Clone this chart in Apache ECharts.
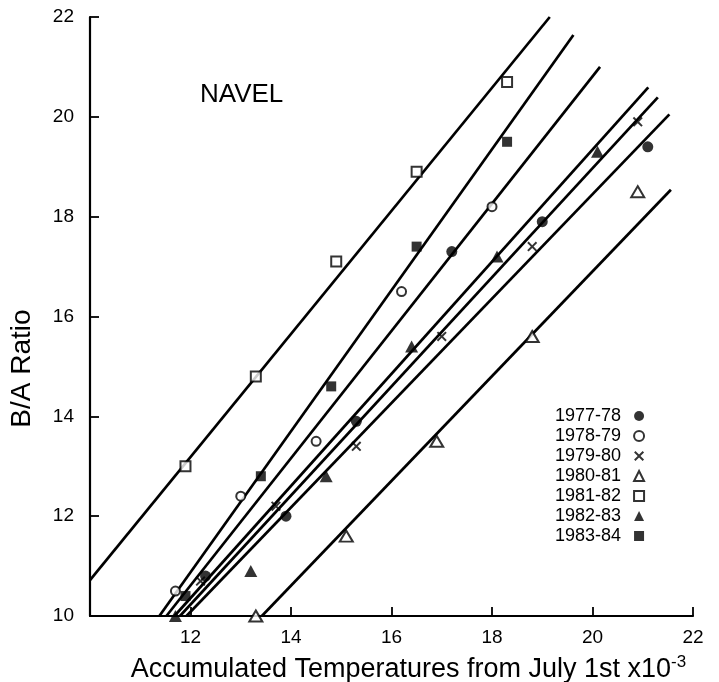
<!DOCTYPE html>
<html>
<head>
<meta charset="utf-8">
<script src="https://cdn.jsdelivr.net/npm/echarts@6/dist/echarts.min.js"></script>
<style>
  html, body { margin: 0; padding: 0; background: #fff; }
  #chart { width: 719px; height: 682px; }
</style>
</head>
<body>
<div id="chart"></div>
<script>
// seasons, in legend order
var seasons = ['1977-78', '1978-79', '1979-80', '1980-81', '1981-82', '1982-83', '1983-84'];

// measured points (accumulated temp x10^-3, B/A ratio)
var x7778 = [12.3, 13.9, 15.3, 17.2, 19.0, 21.1];
var y7778 = [10.8, 12.0, 13.9, 17.3, 17.9, 19.4];
var x7879 = [11.7, 13.0, 14.5, 16.2, 18.0];
var y7879 = [10.5, 12.4, 13.5, 16.5, 18.2];
var x7980 = [12.2, 13.7, 15.3, 17.0, 18.8, 20.9];
var y7980 = [10.7, 12.2, 13.4, 15.6, 17.4, 19.9];
var x8081 = [13.3, 15.1, 16.9, 18.8, 20.9];
var y8081 = [10.0, 11.6, 13.5, 15.6, 18.5];
var x8182 = [11.9, 13.3, 14.9, 16.5, 18.3];
var y8182 = [13.0, 14.8, 17.1, 18.9, 20.7];
var x8283 = [11.7, 13.2, 14.7, 16.4, 18.1, 20.1];
var y8283 = [10.0, 10.9, 12.8, 15.4, 17.2, 19.3];
var x8384 = [11.9, 13.4, 14.8, 16.5, 18.3];
var y8384 = [10.4, 12.8, 14.6, 17.4, 19.5];

// fitted lines: [x start, x end], [y start, y end]
var fitX = [[11.92, 21.53], [11.52, 20.15], [11.79, 21.30], [13.42, 21.56], [10.0, 19.15], [11.68, 21.11], [11.38, 19.62]];
var fitY = [[10.0, 20.05], [10.0, 21.0], [10.0, 20.39], [10.0, 18.54], [10.72, 22.0], [10.0, 20.59], [10.0, 21.64]];

var xs = [x7778, x7879, x7980, x8081, x8182, x8283, x8384];
var ys = [y7778, y7879, y7980, y8081, y8182, y8283, y8384];

var FONT = '"Liberation Sans", Arial, Helvetica, sans-serif';
var CROSS = 'path://M0,1.4L1.4,0L5,3.6L8.6,0L10,1.4L6.4,5L10,8.6L8.6,10L5,6.4L1.4,10L0,8.6L3.6,5Z';
var symbols = ['circle', 'emptyCircle', CROSS, 'emptyTriangle', 'emptyRect', 'triangle', 'rect'];
var sizes = [11, 9, 10, [13, 11], 10, [13, 12], 10];

var series = [];
for (var i = 0; i < seasons.length; i++) {
    var pts = [];
    for (var j = 0; j < xs[i].length; j++) {
        pts.push([xs[i][j], ys[i][j]]);
    }
    series.push({
        name: seasons[i],
        type: 'scatter',
        data: pts,
        symbol: symbols[i],
        symbolSize: sizes[i],
        itemStyle: { color: '#000', borderColor: '#000', borderWidth: symbols[i].indexOf('empty') === 0 ? 1.6 : 0 },
        z: 5,
        silent: true
    });
    series.push({
        name: 'fit ' + seasons[i],
        type: 'line',
        data: [[fitX[i][0], fitY[i][0]], [fitX[i][1], fitY[i][1]]],
        symbol: 'none',
        lineStyle: { color: '#000', width: 2.7 },
        z: 2,
        silent: true
    });
}

var chart = echarts.init(document.getElementById('chart'));
chart.setOption({
    animation: false,
    backgroundColor: '#fff',
    title: {
        text: 'NAVEL',
        left: 195,
        top: 77,
        textStyle: { fontFamily: FONT, fontSize: 26, fontWeight: 'normal', color: '#000' }
    },
    legend: {
        data: seasons,
        orient: 'vertical',
        align: 'right',
        left: 550,
        top: 402,
        itemWidth: 10,
        itemHeight: 10,
        itemGap: 2,
        selectedMode: false,
        textStyle: { fontFamily: FONT, fontSize: 18, color: '#000', padding: [0, 8, 0, 0] }
    },
    grid: { left: 90, right: 26, top: 17, bottom: 66, containLabel: false, outerBoundsMode: 'none' },
    xAxis: {
        type: 'value',
        min: 10,
        max: 22,
        interval: 2,
        name: 'Accumulated Temperatures from July 1st x10{sup|-3}',
        nameLocation: 'middle',
        nameGap: 38,
        nameTextStyle: {
            fontFamily: FONT, fontSize: 27, color: '#000', padding: [0, 0, 0, 34],
            rich: { sup: { fontFamily: FONT, fontSize: 17, color: '#000', padding: [0, 0, 15, 0] } }
        },
        axisLine: { lineStyle: { color: '#000', width: 2.2 } },
        axisTick: { inside: true, length: 9, lineStyle: { color: '#000', width: 1.8 } },
        axisLabel: { showMinLabel: false, color: '#000', fontFamily: FONT, fontSize: 19, margin: 12 },
        splitLine: { show: false }
    },
    yAxis: {
        type: 'value',
        min: 10,
        max: 22,
        interval: 2,
        name: 'B/A Ratio',
        nameLocation: 'middle',
        nameRotate: 90,
        nameGap: 54,
        nameTextStyle: { fontFamily: FONT, fontSize: 28, color: '#000', padding: [0, 104, 0, 0] },
        axisLine: { lineStyle: { color: '#000', width: 2.2 } },
        axisTick: { inside: true, length: 9, lineStyle: { color: '#000', width: 1.8 } },
        axisLabel: { color: '#000', fontFamily: FONT, fontSize: 19, margin: 16 },
        splitLine: { show: false }
    },
    series: series
});
</script>
</body>
</html>
